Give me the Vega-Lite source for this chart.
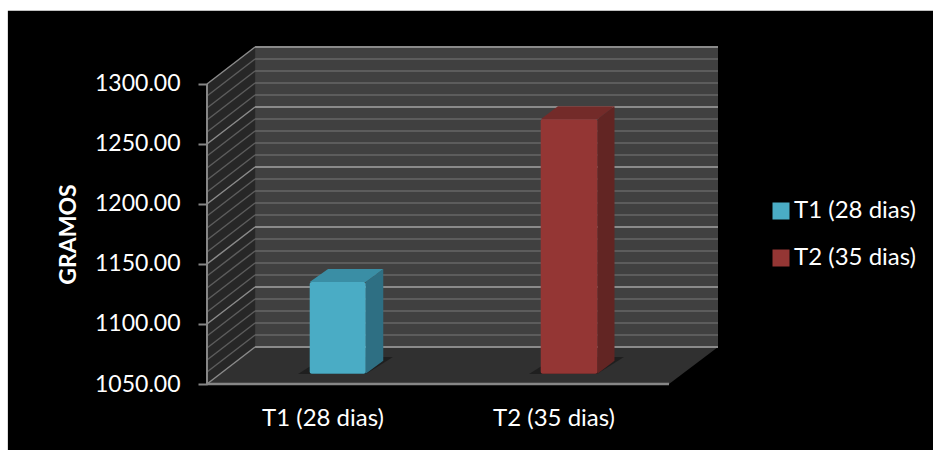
{
  "$schema": "https://vega.github.io/schema/vega-lite/v6.json",
  "width": 511,
  "height": 337,
  "autosize": "none",
  "padding": {"left": 207, "top": 47, "right": 215, "bottom": 66},
  "background": "white",
  "config": {"view": {"stroke": null}, "font": "Lato"},
  "datasets": {
    "panel": [{"x0": -0.862, "x1": 3.15, "y0": 995, "y1": 1361}],
    "sideWall": [
      {"x": 0, "upper": 1300, "lower": 1050},
      {"x": 0.208, "upper": 1330.83, "lower": 1080.83}
    ],
    "backWall": [{"x0": 0.208, "x1": 2.212, "y0": 1080.83, "y1": 1330.83}],
    "floor": [
      {"x": 0, "upper": 1050, "lower": 1050},
      {"x": 0.208, "upper": 1080.83, "lower": 1050},
      {"x": 2, "upper": 1080.83, "lower": 1050},
      {"x": 2.212, "upper": 1080.83, "lower": 1080.83}
    ],
    "minorGrid": [
      {"gramos": 1060, "back": 1090.83}, {"gramos": 1070, "back": 1100.83},
      {"gramos": 1080, "back": 1110.83}, {"gramos": 1090, "back": 1120.83},
      {"gramos": 1110, "back": 1140.83}, {"gramos": 1120, "back": 1150.83},
      {"gramos": 1130, "back": 1160.83}, {"gramos": 1140, "back": 1170.83},
      {"gramos": 1160, "back": 1190.83}, {"gramos": 1170, "back": 1200.83},
      {"gramos": 1180, "back": 1210.83}, {"gramos": 1190, "back": 1220.83},
      {"gramos": 1210, "back": 1240.83}, {"gramos": 1220, "back": 1250.83},
      {"gramos": 1230, "back": 1260.83}, {"gramos": 1240, "back": 1270.83},
      {"gramos": 1260, "back": 1290.83}, {"gramos": 1270, "back": 1300.83},
      {"gramos": 1280, "back": 1310.83}, {"gramos": 1290, "back": 1320.83}
    ],
    "majorGrid": [
      {"gramos": 1050, "back": 1080.83}, {"gramos": 1100, "back": 1130.83},
      {"gramos": 1150, "back": 1180.83}, {"gramos": 1200, "back": 1230.83},
      {"gramos": 1250, "back": 1280.83}, {"gramos": 1300, "back": 1330.83}
    ],
    "shadows": [
      {"treatment": "T1 (28 dias)", "x": 0.394, "upper": 1058.33, "lower": 1058.33},
      {"treatment": "T1 (28 dias)", "x": 0.511, "upper": 1072.5, "lower": 1058.33},
      {"treatment": "T1 (28 dias)", "x": 0.688, "upper": 1072.5, "lower": 1058.33},
      {"treatment": "T1 (28 dias)", "x": 0.805, "upper": 1072.5, "lower": 1072.5},
      {"treatment": "T2 (35 dias)", "x": 1.394, "upper": 1058.33, "lower": 1058.33},
      {"treatment": "T2 (35 dias)", "x": 1.511, "upper": 1072.5, "lower": 1058.33},
      {"treatment": "T2 (35 dias)", "x": 1.688, "upper": 1072.5, "lower": 1058.33},
      {"treatment": "T2 (35 dias)", "x": 1.805, "upper": 1072.5, "lower": 1072.5}
    ],
    "barFront": [
      {"treatment": "T1 (28 dias)", "start": 0.4446, "end": 0.687, "gramos": 1126.4},
      {"treatment": "T2 (35 dias)", "start": 1.4446, "end": 1.69, "gramos": 1262}
    ],
    "barSide": [
      {"treatment": "T1 (28 dias)", "x": 0.687, "upper": 1126.4, "lower": 1050},
      {"treatment": "T1 (28 dias)", "x": 0.763, "upper": 1137.2, "lower": 1060.8},
      {"treatment": "T2 (35 dias)", "x": 1.69, "upper": 1262, "lower": 1050},
      {"treatment": "T2 (35 dias)", "x": 1.764, "upper": 1272.8, "lower": 1060.8}
    ],
    "barTop": [
      {"treatment": "T1 (28 dias)", "x": 0.4446, "upper": 1126.4, "lower": 1126.4},
      {"treatment": "T1 (28 dias)", "x": 0.524, "upper": 1137.2, "lower": 1126.4},
      {"treatment": "T1 (28 dias)", "x": 0.687, "upper": 1137.2, "lower": 1126.4},
      {"treatment": "T1 (28 dias)", "x": 0.763, "upper": 1137.2, "lower": 1137.2},
      {"treatment": "T2 (35 dias)", "x": 1.4446, "upper": 1262, "lower": 1262},
      {"treatment": "T2 (35 dias)", "x": 1.519, "upper": 1272.8, "lower": 1262},
      {"treatment": "T2 (35 dias)", "x": 1.69, "upper": 1272.8, "lower": 1262},
      {"treatment": "T2 (35 dias)", "x": 1.764, "upper": 1272.8, "lower": 1272.8}
    ],
    "frontAxis": [{"x0": 0, "x1": 2, "y0": 1050, "y1": 1300}]
  },
  "resolve": {"scale": {"color": "independent"}},
  "layer": [
    {
      "data": {"name": "panel"},
      "mark": {"type": "rect", "color": "black", "clip": false},
      "encoding": {
        "x": {
          "field": "x0",
          "type": "quantitative",
          "scale": {"domain": [0, 2.212], "nice": false, "zero": false},
          "axis": {
            "values": [0.5, 1.5],
            "labelExpr": "datum.value < 1 ? 'T1 (28 dias)' : 'T2 (35 dias)'",
            "title": null,
            "domain": false,
            "ticks": false,
            "grid": false,
            "labelColor": "white",
            "labelFontSize": 24,
            "labelPadding": 22,
            "labelFlush": false,
            "labelOverlap": false,
            "zindex": 1
          }
        },
        "x2": {"field": "x1"},
        "y": {
          "field": "y0",
          "type": "quantitative",
          "scale": {"domain": [1050, 1330.83], "nice": false, "zero": false},
          "axis": {
            "values": [1050, 1100, 1150, 1200, 1250, 1300],
            "format": ".2f",
            "title": "GRAMOS",
            "titleColor": "white",
            "titleFontSize": 23,
            "titleFontWeight": "bold",
            "titleX": -127,
            "titleY": 187,
            "domain": false,
            "grid": false,
            "tickColor": "#868686",
            "tickWidth": 2,
            "tickSize": 9,
            "labelColor": "white",
            "labelFontSize": 23,
            "labelPadding": 18,
            "zindex": 1
          }
        },
        "y2": {"field": "y1"}
      }
    },
    {
      "data": {"name": "backWall"},
      "mark": {"type": "rect", "color": "#404040"},
      "encoding": {
        "x": {"field": "x0", "type": "quantitative"},
        "x2": {"field": "x1"},
        "y": {"field": "y0", "type": "quantitative"},
        "y2": {"field": "y1"}
      }
    },
    {
      "data": {"name": "sideWall"},
      "mark": {"type": "area", "color": "#272727"},
      "encoding": {
        "x": {"field": "x", "type": "quantitative"},
        "y": {"field": "upper", "type": "quantitative"},
        "y2": {"field": "lower"}
      }
    },
    {
      "data": {"name": "floor"},
      "mark": {"type": "area", "color": "#303030"},
      "encoding": {
        "x": {"field": "x", "type": "quantitative"},
        "y": {"field": "upper", "type": "quantitative"},
        "y2": {"field": "lower"}
      }
    },
    {
      "data": {"name": "minorGrid"},
      "mark": {"type": "rule", "color": "#5c5c5c", "strokeWidth": 2},
      "encoding": {
        "x": {"datum": 0.208, "type": "quantitative"},
        "x2": {"datum": 2.212},
        "y": {"field": "back", "type": "quantitative"}
      }
    },
    {
      "data": {"name": "minorGrid"},
      "mark": {"type": "rule", "color": "#5c5c5c", "strokeWidth": 1.5},
      "encoding": {
        "x": {"datum": 0, "type": "quantitative"},
        "x2": {"datum": 0.208},
        "y": {"field": "gramos", "type": "quantitative"},
        "y2": {"field": "back"}
      }
    },
    {
      "data": {"name": "majorGrid"},
      "mark": {"type": "rule", "color": "#8a8a8a", "strokeWidth": 2},
      "encoding": {
        "x": {"datum": 0.208, "type": "quantitative"},
        "x2": {"datum": 2.212},
        "y": {"field": "back", "type": "quantitative"}
      }
    },
    {
      "data": {"name": "majorGrid"},
      "mark": {"type": "rule", "color": "#8a8a8a", "strokeWidth": 1.5},
      "encoding": {
        "x": {"datum": 0, "type": "quantitative"},
        "x2": {"datum": 0.208},
        "y": {"field": "gramos", "type": "quantitative"},
        "y2": {"field": "back"}
      }
    },
    {
      "data": {"name": "frontAxis"},
      "mark": {"type": "rule", "color": "#868686", "strokeWidth": 2.5},
      "encoding": {
        "x": {"field": "x0", "type": "quantitative"},
        "x2": {"field": "x1"},
        "y": {"field": "y0", "type": "quantitative"}
      }
    },
    {
      "data": {"name": "frontAxis"},
      "mark": {"type": "rule", "color": "#868686", "strokeWidth": 2},
      "encoding": {
        "x": {"field": "x0", "type": "quantitative"},
        "y": {"field": "y0", "type": "quantitative"},
        "y2": {"field": "y1"}
      }
    },
    {
      "data": {"name": "shadows"},
      "mark": {"type": "area", "color": "#1c1c1c", "opacity": 0.85},
      "encoding": {
        "detail": {"field": "treatment"},
        "x": {"field": "x", "type": "quantitative"},
        "y": {"field": "upper", "type": "quantitative"},
        "y2": {"field": "lower"}
      }
    },
    {
      "data": {"name": "barSide"},
      "mark": {"type": "area", "yOffset": -10.3, "y2Offset": -10.3},
      "encoding": {
        "x": {"field": "x", "type": "quantitative"},
        "y": {"field": "upper", "type": "quantitative"},
        "y2": {"field": "lower"},
        "color": {
          "field": "treatment",
          "type": "nominal",
          "scale": {"domain": ["T1 (28 dias)", "T2 (35 dias)"], "range": ["#2e6f83", "#622523"]},
          "legend": null
        }
      }
    },
    {
      "data": {"name": "barTop"},
      "mark": {"type": "area", "yOffset": -10.3, "y2Offset": -10.3},
      "encoding": {
        "x": {"field": "x", "type": "quantitative"},
        "y": {"field": "upper", "type": "quantitative"},
        "y2": {"field": "lower"},
        "color": {
          "field": "treatment",
          "type": "nominal",
          "scale": {"domain": ["T1 (28 dias)", "T2 (35 dias)"], "range": ["#3a8ea5", "#732b29"]},
          "legend": null
        }
      }
    },
    {
      "data": {"name": "barFront"},
      "mark": {"type": "rect", "yOffset": -10.3, "y2Offset": -10.3, "cornerRadius": 2},
      "encoding": {
        "x": {"field": "start", "type": "quantitative"},
        "x2": {"field": "end"},
        "y": {"field": "gramos", "type": "quantitative"},
        "y2": {"datum": 1050},
        "color": {
          "field": "treatment",
          "type": "nominal",
          "scale": {"domain": ["T1 (28 dias)", "T2 (35 dias)"], "range": ["#4aacc5", "#943634"]},
          "legend": {
            "title": null,
            "orient": "none",
            "legendX": 562,
            "legendY": 152,
            "labelColor": "white",
            "labelFontSize": 24,
            "labelOffset": 1,
            "symbolType": "square",
            "symbolSize": 289,
            "symbolStrokeWidth": 0,
            "rowPadding": 23
          }
        }
      }
    }
  ]
}
